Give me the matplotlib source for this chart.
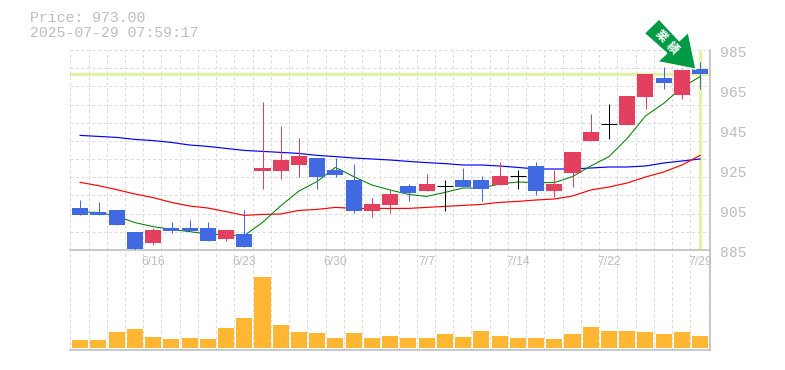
import matplotlib
matplotlib.use("Agg")
import matplotlib.pyplot as plt
import numpy as np
from matplotlib.patches import Polygon

W, H = 785, 370
MONO = "Liberation Mono"
SANS = "Liberation Sans"
CJK = "Noto Sans CJK JP"

price_text = "Price: 973.00"
time_text = "2025-07-29 07:59:17"
last_price = 973.0
arrow_label = "業績"

opens = [906, 904, 905, 894, 888.5, 896, 896, 896, 890.5, 893, 924.5, 924.5, 927.5, 931, 925, 920, 904.5, 907.5,
         917, 914.5, 917, 920, 920, 917.5, 922, 927, 914.5, 923.5, 939.5, 948, 947.5, 961.5, 971, 962.5, 975.5]
closes = [902.5, 902.5, 897.5, 885.5, 895, 894.5, 894.5, 889.5, 895, 886.5, 926, 930, 932, 921.5, 922.5, 904.5, 908, 913,
          913.5, 918, 917, 916.5, 915.5, 922, 922, 914.5, 918, 934, 944, 948, 962, 973, 968.5, 975, 973]
highs = [910, 909, 905, 894, 896, 899, 900, 899, 895, 905, 959, 947, 941, 931, 931, 928, 911, 915,
         918, 923, 920, 926, 922, 929, 925, 929, 925, 934, 953, 958, 962, 973, 976.5, 975.5, 979]
lows = [902.5, 902.5, 897.5, 884.7, 887.5, 893.5, 894.5, 889.5, 889.5, 886.5, 915.5, 920.5, 921.5, 915.5, 921.5, 903.5, 901.5, 903.5,
        909.5, 914.5, 904.5, 916.5, 909.5, 917.5, 915.5, 912.5, 911.5, 916.5, 939.5, 940.5, 947.5, 955.5, 965.5, 960.5, 965.5]

ma_short = [904, 903.8, 902, 898.7, 896.7, 895.3, 894.2, 893, 892.5, 892.2, 898.8, 907.1, 914.5, 919.3, 926.3, 921.7, 917.5, 915,
            912.8, 911.8, 913.8, 916, 916, 918, 919, 918.7, 918.7, 921.7, 927, 931.7, 940.8, 952, 958.3, 966.3, 971.7]
ma_mid = [918.8, 917.2, 915.2, 913, 911.2, 908.8, 907, 906, 904.2, 902.3, 902.8, 903, 904.8, 905.3, 906.3, 905.8, 905.8, 905.8,
          905.8, 906.3, 906.8, 907.3, 907.8, 908.8, 909.3, 910, 910.5, 912, 915, 916.5, 918.5, 921.5, 924, 927.5, 932.3]
ma_long = [942.3, 941.8, 941.3, 940.3, 939.7, 938.8, 937.5, 936.8, 935.8, 934.8, 934.3, 933.8, 933.3, 932.3, 931.7, 931, 930.5, 930,
           929.3, 928.7, 928.2, 927.5, 927.5, 927, 926.3, 925.5, 925.5, 925.5, 926, 926.5, 926.5, 927, 928.5, 929.5, 930.5]
volumes = [8, 8, 16, 19, 11, 9, 10, 9, 20, 30, 71, 23, 16, 15, 10, 15, 10, 12,
           10, 10, 14, 11, 17, 12, 10, 10, 9, 14, 21, 17, 17, 16, 14, 16, 12]

date_positions = [4, 9, 14, 19, 24, 29, 34]
date_labels = ["6/16", "6/23", "6/30", "7/7", "7/14", "7/22", "7/29"]
price_ticks = [885, 905, 925, 945, 965, 985]

BLUE = "#4169e1"
RED = "#e34060"
ORANGE = "#ffb733"
GRID = "#dcdcdc"
FRAME = "#c0c0c0"
TEXT = "#bdbdbd"
HILITE = "#e3f2a8"
ARROW = "#009944"
LW = 0.72

fig = plt.figure(figsize=(W / 100, H / 100), dpi=100, facecolor="white")


def axes_px(left, top, right, bottom):
    return fig.add_axes([left / W, 1 - bottom / H, (right - left) / W, (bottom - top) / H])


x = np.arange(len(opens))
xlim = (-0.54, 34.54)
grid_x = np.arange(-0.54, 34.5, 1)

ax = axes_px(70.3, 50, 710, 250)
ax.set_xlim(*xlim)
ax.set_ylim(885, 985)
vax = axes_px(70.3, 250, 710, 350)
vax.set_xlim(*xlim)
vax.set_ylim(-2.3, 98)

for a in (ax, vax):
    a.set_facecolor("none")
    a.tick_params(left=False, bottom=False, labelleft=False, labelbottom=False)
    for s in a.spines.values():
        s.set_visible(False)
    a.vlines(grid_x, 0, 1, transform=a.get_xaxis_transform(), colors=GRID, lw=LW,
             linestyles=(0, (3, 2.5)), zorder=0, snap=True)

# horizontal grid in the price panel
grid_y = np.linspace(885, 985, 12)
ax.hlines(grid_y[1:], 0, 1, transform=ax.get_yaxis_transform(), colors=GRID, lw=LW,
          linestyles=(0, (3, 2.5)), zorder=0, snap=True)

# solid frame
ax.spines["bottom"].set(visible=True, color=FRAME, linewidth=1.2)
ax.spines["right"].set(visible=True, color=FRAME, linewidth=1.2)
vax.spines["bottom"].set(visible=True, color=FRAME, linewidth=1.2)
vax.spines["right"].set(visible=True, color=FRAME, linewidth=1.2)

# current price / last date highlight
ax.axhline(last_price, color=HILITE, lw=2.4, zorder=1)
ax.axvline(x[-1], color=HILITE, lw=2.4, zorder=1)

# moving averages
ax.plot(x, ma_long, color="#0000ff", lw=0.85, zorder=2)
ax.plot(x, ma_mid, color="#ff0000", lw=0.85, zorder=2)
ax.plot(x, ma_short, color="#008000", lw=0.75, zorder=2)

# candles
for i, o, c, hi, lo in zip(x, opens, closes, highs, lows):
    if c > o:
        col = RED
    elif c < o:
        col = BLUE
    else:
        col = "black"
    ax.vlines(i + 0.01, lo, hi, colors=col, lw=LW, zorder=3, snap=True)
    if c == o:
        ax.hlines(c, i - 0.44, i + 0.44, colors=col, lw=LW, zorder=3, snap=True)
    else:
        ax.bar(i, abs(c - o), bottom=min(o, c), width=0.88, color=col, lw=0, zorder=3)

# volume
vax.bar(x, volumes, width=0.88, color=ORANGE, lw=0, zorder=2)

# date labels live across the top of the volume panel
for p, lab in zip(date_positions, date_labels):
    vax.text(p, 0.88, lab, transform=vax.get_xaxis_transform(), ha="center", va="center",
             color=TEXT, family=SANS, fontsize=8.7, zorder=4)

# price labels
for t in price_ticks:
    ax.annotate(str(t), (1, t), xycoords=ax.get_yaxis_transform(), xytext=(7.5, -2.4),
                textcoords="offset points", ha="left", va="center", color=TEXT,
                family=MONO, fontsize=10.6, annotation_clip=False)

# header
fig.text(30 / W, 1 - 18 / H, price_text, color=TEXT, family=MONO, fontsize=10.7, va="center")
fig.text(30 / W, 1 - 33 / H, time_text, color=TEXT, family=MONO, fontsize=10.7, va="center")

# arrow marker, in pixel space over the whole figure
pts = [(659, 19), (644.3, 33.3), (666.7, 53.3), (657.7, 61.7), (696, 69.3), (688.3, 32.3), (679.3, 40.7)]
fig.add_artist(Polygon([(px / W, 1 - py / H) for px, py in pts], closed=True, transform=fig.transFigure,
                       facecolor=ARROW, edgecolor="white", lw=1.0, zorder=6))
fig.text(661 / W, 1 - 36.5 / H, arrow_label[0], color="white", family=CJK, fontsize=8.6, fontweight="bold",
         rotation=-45, ha="center", va="center", rotation_mode="anchor", zorder=7)
fig.text(672.5 / W, 1 - 47.5 / H, arrow_label[1], color="white", family=CJK, fontsize=8.6, fontweight="bold",
         rotation=-45, ha="center", va="center", rotation_mode="anchor", zorder=7)

fig.savefig("out.png", dpi=100)
